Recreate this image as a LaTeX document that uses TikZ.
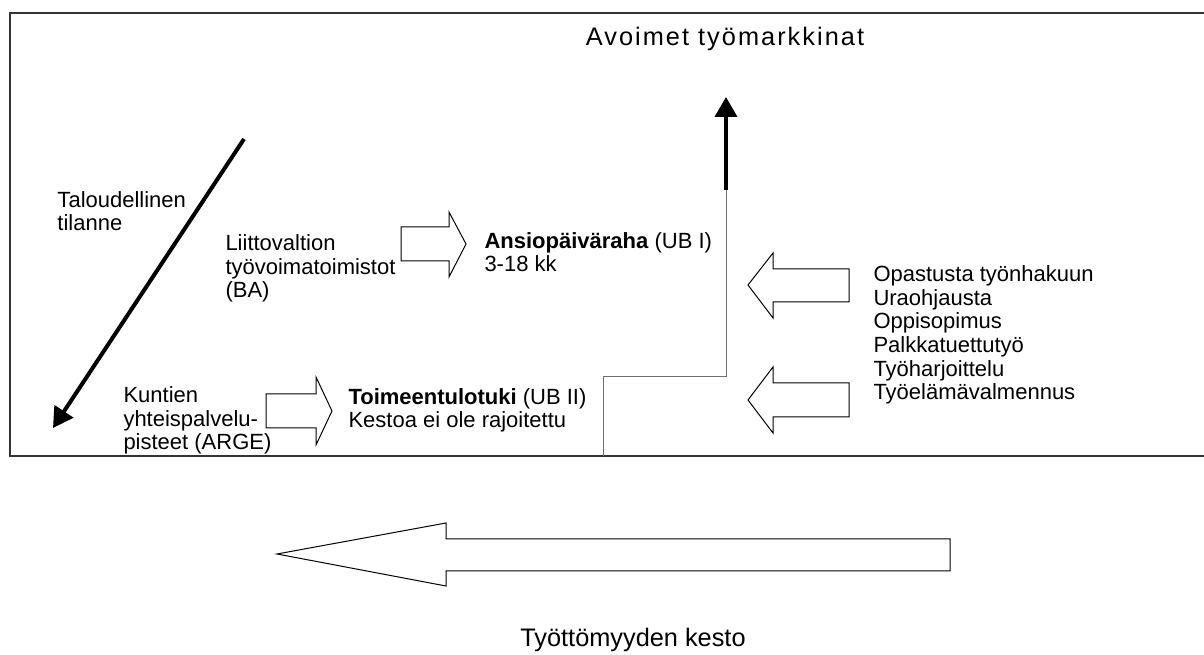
\documentclass[tikz,border=0pt]{standalone}
\usepackage{fontspec}
\setmainfont{Liberation Sans}
\usetikzlibrary{arrows.meta}

\tikzset{every picture/.style={line width=0.75pt}}
\tikzset{
  txt/.style={anchor=base west, inner sep=0pt, align=left, font=\fontsize{16.5}{17.8}\selectfont},
  bigtxt/.style={anchor=base, inner sep=0pt, font=\fontsize{19}{23}\selectfont},
  blockarrow/.style={draw=black, fill=white, line width=0.75pt},
  flowline/.style={draw={rgb,255:red,110;green,110;blue,110}, line width=0.75pt},
  heavyarrow/.style={line width=3pt, -{Triangle[length=15pt,width=16.5pt]}}
}

\begin{document}
\begin{tikzpicture}[x=0.75pt,y=0.75pt,yscale=-1,xscale=1]
  \useasboundingbox (0,0) rectangle (1204,655);

  %Frame
  \draw [color={rgb, 255:red, 51; green, 51; blue, 51 }, line width=1pt]  (1204,13) -- (10,13) -- (10,456) -- (1204,456) ;

  % Text Node (base = last line)
  \node [bigtxt] (open) at (725,46) {\addfontfeatures{LetterSpace=8}Avoimet työmarkkinat};
  % Text Node
  \node [bigtxt] (duration) at (633,647) {Työttömyyden kesto};
  % Text Node
  \node [txt] (economy) at (57,231) {Taloudellinen\\tilanne};
  % Text Node
  \node [txt] (ba) at (225,298) {Liittovaltion\\työvoimatoimistot\\(BA)};
  % Text Node
  \node [txt] (arge) at (123,450) {Kuntien\\yhteispalvelu-\\pisteet (ARGE)};
  % Text Node
  \node [txt] (ubone) at (484,272) {\textbf{Ansiopäiväraha} (UB I)\\3-18 kk};
  % Text Node
  \node [txt] (ubtwo) at (348,428) {\textbf{Toimeentulotuki} (UB II)\\Kestoa ei ole rajoitettu};
  % Text Node
  \node [txt] (measures) at (873,400) {Opastusta työnhakuun\\Uraohjausta\\Oppisopimus\\Palkkatuettutyö\\Työharjoittelu\\Työelämävalmennus};

  %Shape: Right Arrow [BA]
  \draw [blockarrow]  (401,227) -- (449,227) -- (449,212) -- (466,244) -- (449,277) -- (449,261) -- (401,261) -- cycle ;
  %Shape: Right Arrow [ARGE]
  \draw [blockarrow]  (266,394) -- (316,394) -- (316,377) -- (332,411) -- (316,445) -- (316,428) -- (266,428) -- cycle ;
  %Shape: Left Arrow
  \draw [blockarrow]  (849,269) -- (773,269) -- (773,253) -- (748,285) -- (773,318) -- (773,302) -- (849,302) -- cycle ;
  %Shape: Left Arrow
  \draw [blockarrow]  (849,383) -- (773,383) -- (773,367) -- (748,400) -- (773,433) -- (773,417) -- (849,417) -- cycle ;
  %Shape: Left Arrow [duration]
  \draw [blockarrow]  (950,539) -- (446,539) -- (446,523) -- (277,554) -- (446,586) -- (446,571) -- (950,571) -- cycle ;

  %Path to the open labour market
  \coordinate (entry) at (603,456);
  \coordinate (rise) at (726,190);
  \coordinate (goal) at (726,97);
  \draw [flowline]  (entry) |- (726,377) -- (rise) ;
  \draw [heavyarrow]  (rise) -- (goal) ;

  %Economic situation
  \coordinate (econtop) at (244,139);
  \coordinate (econend) at (53,428);
  \draw [heavyarrow]  (econtop) -- (econend) ;

\end{tikzpicture}
\end{document}
